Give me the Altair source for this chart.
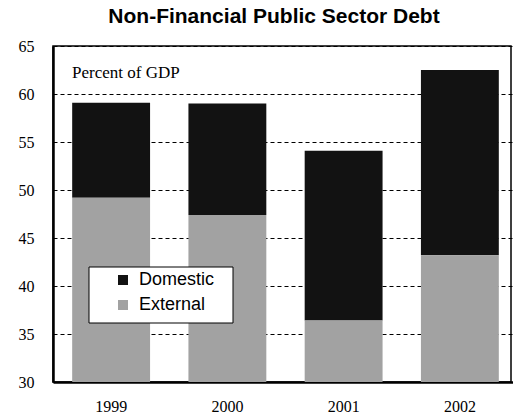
import altair as alt
import pandas as pd

years = ["1999", "2000", "2001", "2002"]
external = [49.2, 47.4, 36.4, 43.2]
domestic = [9.9, 11.6, 17.7, 19.3]
series = ["Domestic", "External"]
colors = ["#121212", "#a2a2a2"]
y_ticks = [30, 35, 40, 45, 50, 55, 60, 65]

rows = []
for y, e, d in zip(years, external, domestic):
    rows.append({"year": y, "series": "External", "start": 0, "end": e})
    rows.append({"year": y, "series": "Domestic", "start": e, "end": e + d})
df = pd.DataFrame(rows)

serif = "Liberation Serif"
sans = "Liberation Sans"

bars = alt.Chart(df).mark_bar(clip=True).encode(
    x=alt.X("year:N", sort=years,
            scale=alt.Scale(range=[0, 465], paddingInner=0.33, paddingOuter=0.165),
            axis=alt.Axis(title=None, labelAngle=0, labelFont=serif, labelFontSize=16,
                          labelColor="black", labelPadding=16, ticks=False,
                          domain=True, domainColor="black", domainWidth=2.5)),
    y=alt.Y("end:Q", scale=alt.Scale(domain=[30, 65], nice=False, zero=False),
            axis=alt.Axis(title=None, values=y_ticks,
                          labelFont=serif, labelFontSize=16, labelColor="black",
                          labelPadding=19, ticks=False,
                          domain=True, domainColor="black", domainWidth=2.5,
                          grid=True, gridColor="black", gridDash=[4, 3], gridWidth=1)),
    y2="start:Q",
    color=alt.Color("series:N", sort=series,
                    scale=alt.Scale(domain=series, range=colors),
                    legend=alt.Legend(title=None, orient="none", legendX=61, legendY=225,
                                      labelFont=sans, labelFontSize=18, labelColor="black",
                                      symbolType="square", symbolSize=100, symbolStrokeWidth=0,
                                      padding=0, rowPadding=7, labelOffset=7, labelLimit=200)),
    order=alt.Order("series:N", sort="ascending"),
)

legend_box = alt.Chart(pd.DataFrame({"k": [0]})).mark_rect(
    fill="white", stroke="black", strokeWidth=1
).encode(x=alt.value(36), x2=alt.value(180), y=alt.value(221), y2=alt.value(277))

note = alt.Chart(pd.DataFrame({"t": ["Percent of GDP"]})).mark_text(
    font=serif, fontSize=17, align="left", baseline="middle", color="black"
).encode(x=alt.value(19), y=alt.value(27), text="t:N")

title = alt.Chart(pd.DataFrame({"t": ["Non-Financial Public Sector Debt"]})).mark_text(
    font=sans, fontSize=21, fontWeight="bold", align="center", baseline="middle", color="black"
).encode(x=alt.value(221), y=alt.value(-29), text="t:N")

chart = alt.layer(bars, legend_box, note, title).properties(
    width=458, height=336,
    autosize=alt.AutoSizeParams(type="none"),
    padding={"left": 53, "top": 46, "right": 2, "bottom": 35},
).configure_view(stroke="black", strokeWidth=1.5).configure_axis(gridOpacity=1)

chart.save("out.html", embed_options={"renderer": "svg", "actions": False})
